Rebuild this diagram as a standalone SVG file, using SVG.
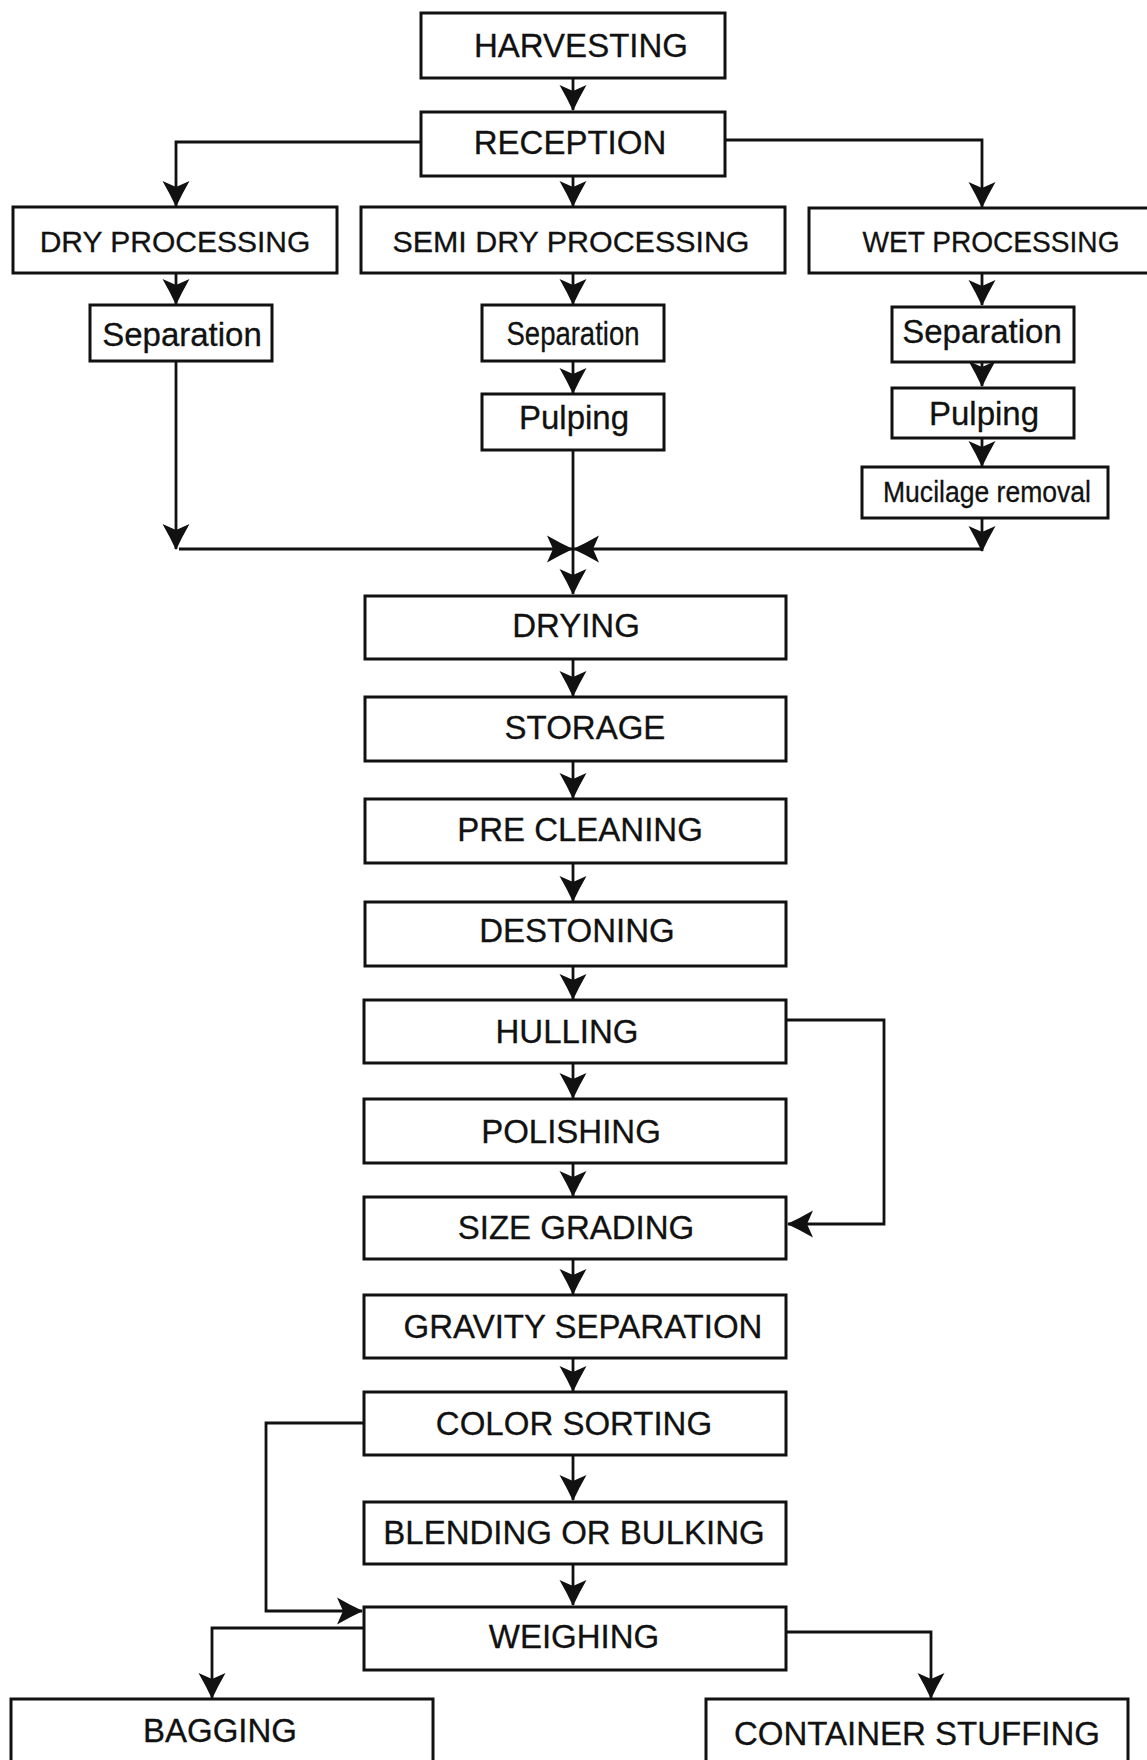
<svg xmlns="http://www.w3.org/2000/svg" width="1147" height="1760" viewBox="0 0 1147 1760">
<style>
.box{fill:#fff;stroke:#111;stroke-width:3}
.t{font-family:"Liberation Sans",Arial,sans-serif;font-size:33px;fill:#111;text-anchor:middle;stroke:#111;stroke-width:0.3}
.m{font-size:30px}
.c{fill:none;stroke:#111;stroke-width:2.8}
</style>
<defs>
<marker id="ah" markerUnits="userSpaceOnUse" viewBox="-27 -15 29 30" refX="0" refY="0" markerWidth="29" markerHeight="30" orient="auto">
<path d="M1,0 Q-12,-6 -25,-13.5 L-19,0 L-25,13.5 Q-12,6 1,0 Z" fill="#111"/>
</marker>
</defs>
<rect width="1147" height="1760" fill="#fff"/>
<g id="connectors">
<path class="c" d="M573,78 V110" marker-end="url(#ah)"/>
<path class="c" d="M421,142 H176 V206" marker-end="url(#ah)"/>
<path class="c" d="M725,140 H982 V207" marker-end="url(#ah)"/>
<path class="c" d="M573,176 V206" marker-end="url(#ah)"/>
<path class="c" d="M176,273 V304" marker-end="url(#ah)"/>
<path class="c" d="M573,273 V304" marker-end="url(#ah)"/>
<path class="c" d="M982,273 V305" marker-end="url(#ah)"/>
<path class="c" d="M573,361 V393" marker-end="url(#ah)"/>
<path class="c" d="M982,362 V386" marker-end="url(#ah)"/>
<path class="c" d="M982,438 V466" marker-end="url(#ah)"/>
<path class="c" d="M176,361 V549" marker-end="url(#ah)"/>
<path class="c" d="M982,518 V551" marker-end="url(#ah)"/>
<path class="c" d="M179,549 H572" marker-end="url(#ah)"/>
<path class="c" d="M982,549 H574" marker-end="url(#ah)"/>
<path class="c" d="M573,450 V594" marker-end="url(#ah)"/>
<path class="c" d="M573,660 V696" marker-end="url(#ah)"/>
<path class="c" d="M573,762 V798" marker-end="url(#ah)"/>
<path class="c" d="M573,863 V901" marker-end="url(#ah)"/>
<path class="c" d="M573,966 V999" marker-end="url(#ah)"/>
<path class="c" d="M573,1063 V1098" marker-end="url(#ah)"/>
<path class="c" d="M573,1163 V1196" marker-end="url(#ah)"/>
<path class="c" d="M573,1260 V1294" marker-end="url(#ah)"/>
<path class="c" d="M573,1359 V1391" marker-end="url(#ah)"/>
<path class="c" d="M573,1455 V1500" marker-end="url(#ah)"/>
<path class="c" d="M573,1564 V1605" marker-end="url(#ah)"/>
<path class="c" d="M786,1020 H884 V1224 H788" marker-end="url(#ah)"/>
<path class="c" d="M364,1423 H266 V1611 H362" marker-end="url(#ah)"/>
<path class="c" d="M364,1628 H212 V1698" marker-end="url(#ah)"/>
<path class="c" d="M786,1632 H931 V1698" marker-end="url(#ah)"/>
</g>
<g id="harvesting"><rect class="box" x="421" y="13" width="304" height="65"/><text class="t" x="581" y="57">HARVESTING</text></g>
<g id="reception"><rect class="box" x="421" y="112" width="304" height="64"/><text class="t" x="570" y="154">RECEPTION</text></g>
<g id="dry-processing"><rect class="box" x="13" y="207" width="324" height="66"/><text class="t m" x="175" y="252">DRY PROCESSING</text></g>
<g id="semi-dry-processing"><rect class="box" x="361" y="207" width="424" height="66"/><text class="t m" x="571" y="252" textLength="357" lengthAdjust="spacingAndGlyphs">SEMI DRY PROCESSING</text></g>
<g id="wet-processing"><rect class="box" x="809" y="208" width="345" height="65"/><text class="t m" x="991" y="252" textLength="257" lengthAdjust="spacingAndGlyphs">WET PROCESSING</text></g>
<g id="dry-separation"><rect class="box" x="90" y="305" width="182" height="56"/><text class="t" x="182" y="346">Separation</text></g>
<g id="semi-separation"><rect class="box" x="482" y="305" width="182" height="56"/><text class="t" x="573" y="345" font-size="31" textLength="133" lengthAdjust="spacingAndGlyphs">Separation</text></g>
<g id="semi-pulping"><rect class="box" x="482" y="394" width="182" height="56"/><text class="t" x="574" y="429">Pulping</text></g>
<g id="wet-separation"><rect class="box" x="892" y="307" width="182" height="55"/><text class="t" x="982" y="343">Separation</text></g>
<g id="wet-pulping"><rect class="box" x="892" y="388" width="182" height="50"/><text class="t" x="984" y="425">Pulping</text></g>
<g id="mucilage-removal"><rect class="box" x="862" y="467" width="246" height="51"/><text class="t m" x="987" y="502" textLength="208" lengthAdjust="spacingAndGlyphs">Mucilage removal</text></g>
<g id="drying"><rect class="box" x="365" y="596" width="421" height="63"/><text class="t" x="576" y="637">DRYING</text></g>
<g id="storage"><rect class="box" x="365" y="697" width="421" height="64"/><text class="t" x="585" y="739">STORAGE</text></g>
<g id="pre-cleaning"><rect class="box" x="365" y="799" width="421" height="64"/><text class="t" x="580" y="841">PRE CLEANING</text></g>
<g id="destoning"><rect class="box" x="365" y="902" width="421" height="64"/><text class="t" x="577" y="942">DESTONING</text></g>
<g id="hulling"><rect class="box" x="364" y="1000" width="422" height="63"/><text class="t" x="567" y="1043">HULLING</text></g>
<g id="polishing"><rect class="box" x="364" y="1099" width="422" height="64"/><text class="t" x="571" y="1143">POLISHING</text></g>
<g id="size-grading"><rect class="box" x="364" y="1197" width="422" height="62"/><text class="t" x="576" y="1239">SIZE GRADING</text></g>
<g id="gravity-separation"><rect class="box" x="364" y="1295" width="422" height="63"/><text class="t" x="583" y="1338">GRAVITY SEPARATION</text></g>
<g id="color-sorting"><rect class="box" x="364" y="1392" width="422" height="63"/><text class="t" x="574" y="1435">COLOR SORTING</text></g>
<g id="blending-or-bulking"><rect class="box" x="364" y="1502" width="422" height="62"/><text class="t" x="574" y="1544">BLENDING OR BULKING</text></g>
<g id="weighing"><rect class="box" x="364" y="1607" width="422" height="63"/><text class="t" x="574" y="1648">WEIGHING</text></g>
<g id="bagging"><rect class="box" x="11" y="1699" width="422" height="80"/><text class="t" x="220" y="1742">BAGGING</text></g>
<g id="container-stuffing"><rect class="box" x="706" y="1699" width="422" height="80"/><text class="t" x="917" y="1745">CONTAINER STUFFING</text></g>
</svg>
